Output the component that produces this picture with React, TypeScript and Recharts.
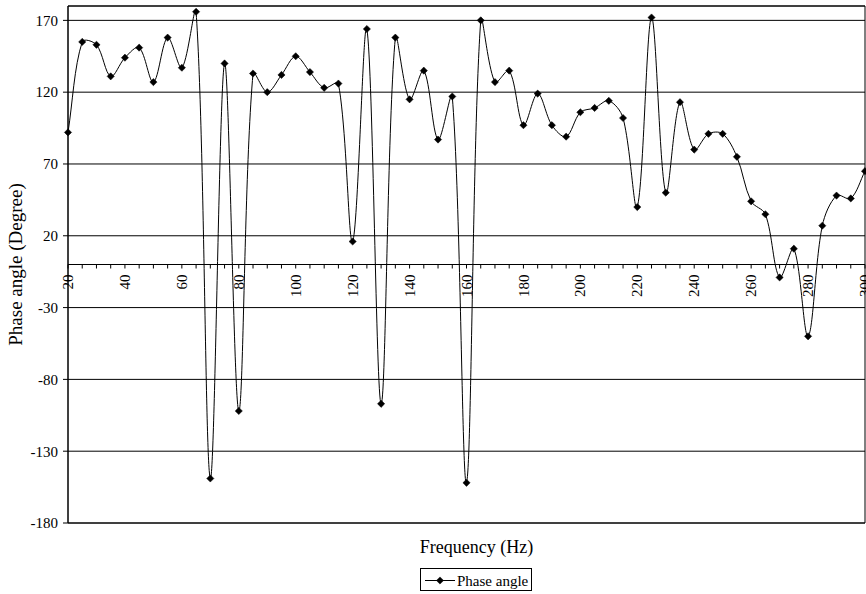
import React from 'react';
import { LineChart, Line, XAxis, YAxis, CartesianGrid, ReferenceLine, ReferenceArea } from 'recharts';

const FREQUENCIES = [
  20, 25, 30, 35, 40, 45, 50, 55, 60, 65, 70, 75, 80, 85, 90, 95, 100, 105, 110, 115,
  120, 125, 130, 135, 140, 145, 150, 155, 160, 165, 170, 175, 180, 185, 190, 195, 200, 205, 210, 215,
  220, 225, 230, 235, 240, 245, 250, 255, 260, 265, 270, 275, 280, 285, 290, 295, 300,
];
const PHASE_ANGLE = [
  92, 155, 153, 131, 144, 151, 127, 158, 137, 176, -149, 140, -102, 133, 120, 132, 145, 134, 123, 126,
  16, 164, -97, 158, 115, 135, 87, 117, -152, 170, 127, 135, 97, 119, 97, 89, 106, 109, 114, 102,
  40, 172, 50, 113, 80, 91, 91, 75, 44, 35, -9, 11, -50, 27, 48, 46, 65,
];
const X_LABELS = [20, 40, 60, 80, 100, 120, 140, 160, 180, 200, 220, 240, 260, 280, 300];
const Y_TICKS = [-180, -130, -80, -30, 20, 70, 120, 170];
const Y_MIN = -180;
const Y_MAX = 180;
const X_MIN = 20;
const X_MAX = 300;
const SERIES_NAME = 'Phase angle';

const data = FREQUENCIES.map((f, i) => ({ freq: f, phase: PHASE_ANGLE[i] }));

const W = 866;
const H = 594;
const MARGIN = { top: 6, right: 1, left: 0, bottom: 0 };
const Y_AXIS_W = 68;
const X_AXIS_H = 71;
const PLOT_H = H - MARGIN.top - MARGIN.bottom - X_AXIS_H;
const FONT = '"Liberation Serif", "Times New Roman", serif';

// Excel-like smoothed curve: Bezier with chord-length-scaled tangents
const smoothCurve = (context: any) => {
  let pts: number[][] = [];
  const dist = (a: number[], b: number[]) => Math.hypot(b[0] - a[0], b[1] - a[1]);
  return {
    areaStart() {},
    areaEnd() {},
    lineStart() {
      pts = [];
    },
    lineEnd() {
      const n = pts.length;
      if (!n) return;
      const T = 1 / 3;
      const ctrl = (i: number) => {
        const p = pts[i];
        const prev = pts[Math.max(i - 1, 0)];
        const next = pts[Math.min(i + 1, n - 1)];
        const dx = next[0] - prev[0];
        const dy = next[1] - prev[1];
        const dPrev = dist(prev, p);
        const dNext = dist(p, next);
        const sum = dPrev + dNext || 1;
        return {
          inX: p[0] - dx * T * (dPrev / sum),
          inY: p[1] - dy * T * (dPrev / sum),
          outX: p[0] + dx * T * (dNext / sum),
          outY: p[1] + dy * T * (dNext / sum),
        };
      };
      context.moveTo(pts[0][0], pts[0][1]);
      for (let i = 0; i < n - 1; i++) {
        const a = ctrl(i);
        const b = ctrl(i + 1);
        context.bezierCurveTo(a.outX, a.outY, b.inX, b.inY, pts[i + 1][0], pts[i + 1][1]);
      }
    },
    point(x: number, y: number) {
      pts.push([+x, +y]);
    },
  };
};

const Diamond = (props: any) => {
  const { cx, cy } = props;
  if (cx == null || cy == null) return null;
  const r = 3.6;
  return (
    <polygon
      points={`${cx},${cy - r} ${cx + r},${cy} ${cx},${cy + r} ${cx - r},${cy}`}
      fill="#000"
      stroke="#000"
      strokeWidth={0.5}
    />
  );
};

const XTick = (props: any) => {
  const { x, y, payload } = props;
  const zeroY = y - PLOT_H * (Y_MAX - 0) / (Y_MAX - Y_MIN);
  const v = payload.value;
  const showLabel = X_LABELS.includes(v);
  return (
    <g>
      <line x1={x} x2={x} y1={zeroY} y2={zeroY + 4} stroke="#000" strokeWidth={1} />
      {showLabel && (
        <text
          x={x}
          y={zeroY + 10}
          transform={`rotate(-90, ${x}, ${zeroY + 10})`}
          textAnchor="end"
          dy="0.34em"
          fontFamily={FONT}
          fontSize={15}
          fill="#000"
        >
          {v}
        </text>
      )}
    </g>
  );
};

const XTitle = (props: any) => {
  const vb = props.viewBox;
  return (
    <text
      x={vb.x + vb.width / 2 + 10}
      y={vb.y + 30}
      textAnchor="middle"
      fontFamily={FONT}
      fontSize={18}
      fill="#000"
    >
      Frequency (Hz)
    </text>
  );
};

const YTitle = (props: any) => {
  const vb = props.viewBox;
  const cx = 15;
  const cy = vb.y + vb.height / 2;
  return (
    <text
      x={cx}
      y={cy}
      transform={`rotate(-90, ${cx}, ${cy})`}
      textAnchor="middle"
      dy="0.35em"
      fontFamily={FONT}
      fontSize={19}
      fill="#000"
    >
      Phase angle (Degree)
    </text>
  );
};

export default function App() {
  return (
    <div style={{ position: 'absolute', left: 0, top: 0, width: W, height: H, background: '#fff' }}>
      <LineChart width={W} height={H} data={data} margin={MARGIN}>
        <CartesianGrid vertical={false} stroke="#000" strokeWidth={1} />
        <XAxis
          dataKey="freq"
          type="number"
          domain={[X_MIN, X_MAX]}
          ticks={FREQUENCIES}
          interval={0}
          height={X_AXIS_H}
          axisLine={false}
          tickLine={false}
          tickSize={0}
          tickMargin={0}
          tick={<XTick />}
          label={{ content: <XTitle /> }}
        />
        <YAxis
          type="number"
          domain={[Y_MIN, Y_MAX]}
          ticks={Y_TICKS}
          interval={0}
          width={Y_AXIS_W}
          axisLine={{ stroke: '#000' }}
          tickLine={{ stroke: '#000' }}
          tickSize={5}
          tickMargin={5}
          tick={{ fontFamily: FONT, fontSize: 15, fill: '#000' }}
          label={{ content: <YTitle /> }}
        />
        <ReferenceArea x1={X_MIN} x2={X_MAX} y1={Y_MIN} y2={Y_MAX} fill="none" stroke="#000" strokeWidth={1} fillOpacity={0} />
        <ReferenceLine y={0} stroke="#000" strokeWidth={1} />
        <Line
          dataKey="phase"
          name={SERIES_NAME}
          type={smoothCurve as any}
          stroke="#000"
          strokeWidth={1}
          dot={<Diamond />}
          activeDot={false}
          isAnimationActive={false}
        />
      </LineChart>
      <div
        style={{
          position: 'absolute',
          left: 420,
          top: 568,
          width: 110,
          height: 21,
          border: '1px solid #000',
          background: '#fff',
        }}
      >
        <svg width={110} height={21} style={{ position: 'absolute', left: 0, top: 0 }}>
          <line x1={4} x2={34} y1={11.5} y2={11.5} stroke="#000" strokeWidth={1} />
          <Diamond cx={19} cy={11.5} />
          <text x={36} y={16.5} fontFamily={FONT} fontSize={15} fill="#000">
            {SERIES_NAME}
          </text>
        </svg>
      </div>
    </div>
  );
}
